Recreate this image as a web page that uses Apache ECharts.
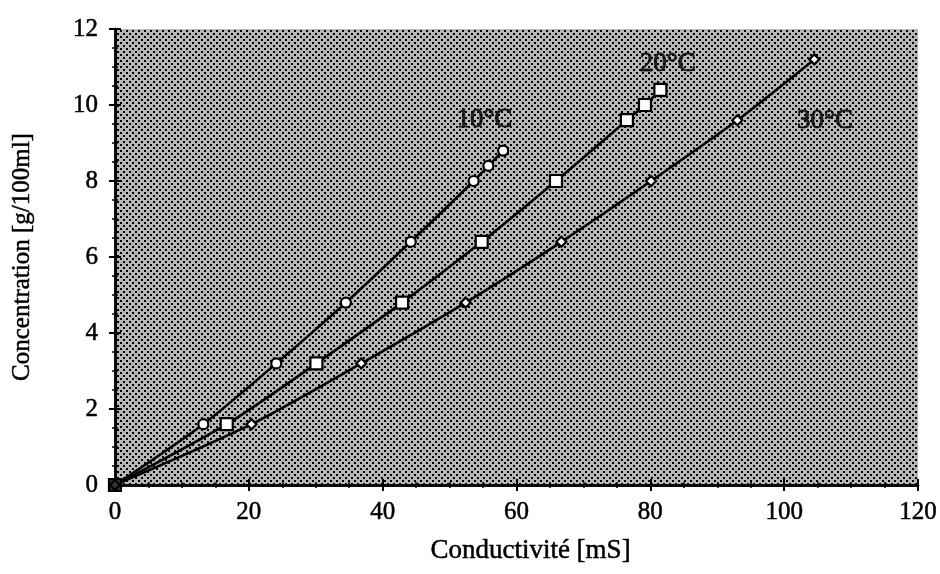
<!DOCTYPE html>
<html>
<head>
<meta charset="utf-8">
<script src="https://cdn.jsdelivr.net/npm/echarts@6/dist/echarts.min.js"></script>
<style>
html,body{margin:0;padding:0;background:#fff;}
#chart{width:940px;height:574px;}
</style>
</head>
<body>
<div id="chart"></div>
<script>
// Data (conductivity in mS, concentration in g/100ml)
const cond10 = [0, 13.2, 24.1, 34.5, 44.2, 53.6, 55.8, 58.0];
const conc10 = [0, 1.6, 3.2, 4.8, 6.4, 8.0, 8.4, 8.8];
const cond20 = [0, 16.7, 30.1, 42.9, 54.8, 65.9, 76.5, 79.2, 81.5];
const conc20 = [0, 1.6, 3.2, 4.8, 6.4, 8.0, 9.6, 10.0, 10.4];
const cond30 = [0, 20.4, 36.8, 52.4, 66.7, 80.1, 93.0, 104.5];
const conc30 = [0, 1.6, 3.2, 4.8, 6.4, 8.0, 9.6, 11.2];
const curveNames = ['10°C', '20°C', '30°C'];
const curveLabelPos = [[55.2, 9.6], [82.6, 11.08], [106.1, 9.58]];
const xTicks = [0, 20, 40, 60, 80, 100, 120];
const yTicks = [0, 2, 4, 6, 8, 10, 12];

// dotted halftone pattern
const pc = document.createElement('canvas');
pc.width = 6; pc.height = 6;
const pctx = pc.getContext('2d');
pctx.fillStyle = '#b6b6b6';
pctx.fillRect(0, 0, 6, 6);
pctx.fillStyle = '#000000';
pctx.fillRect(0, 0, 2, 2);
pctx.fillRect(3, 3, 2, 2);

const font = '"Liberation Serif", "DejaVu Serif", serif';
const chart = echarts.init(document.getElementById('chart'));

function pairs(xs, ys) { return xs.map((x, i) => [x, ys[i]]); }

const heavy = { textBorderColor: '#000', textBorderWidth: 0.5 };

const axisCommon = {
  axisLine: { show: true, lineStyle: { color: '#000', width: 2.5 } },
  axisTick: { show: true, inside: false, length: 6, lineStyle: { color: '#000', width: 2 } },
  minorTick: { show: true, splitNumber: 4, length: 3, lineStyle: { color: '#000', width: 1.5 } },
  splitLine: { show: false }
};

const lineSeries = (name, data, symbol, size) => ({
  name: name,
  type: 'line',
  data: data,
  smooth: 0.25,
  symbol: symbol,
  symbolSize: size,
  showAllSymbol: true,
  lineStyle: { color: '#000', width: 2.6 },
  itemStyle: { color: '#fff', borderColor: '#000', borderWidth: 2.2 },
  z: 3
});

chart.setOption({
  animation: false,
  backgroundColor: '#fff',
  grid: {
    left: 115, right: 19, top: 29, bottom: 89,
    show: true,
    backgroundColor: { image: pc, repeat: 'repeat' },
    borderWidth: 0
  },
  xAxis: [
    Object.assign({
      type: 'value', min: 0, max: 120, interval: 20,
      name: 'Conductivité [mS]', nameLocation: 'middle', nameGap: 52,
      nameTextStyle: Object.assign({ fontFamily: font, fontSize: 27, color: '#000', padding: [0, 0, 0, 28] }, heavy),
      axisLabel: Object.assign({ fontFamily: font, fontSize: 25, color: '#000', margin: 15,
        formatter: v => xTicks.includes(v) ? String(v) : '' }, heavy)
    }, axisCommon),
    Object.assign({
      type: 'value', min: 0, max: 120, interval: 20, position: 'top',
      axisLabel: { show: false }
    }, axisCommon)
  ],
  yAxis: [
    Object.assign({
      type: 'value', min: 0, max: 12, interval: 2,
      name: 'Concentration [g/100ml]', nameLocation: 'middle', nameGap: 80,
      nameTextStyle: Object.assign({ fontFamily: font, fontSize: 25, color: '#000' }, heavy),
      axisLabel: Object.assign({ fontFamily: font, fontSize: 25, color: '#000', margin: 17,
        formatter: v => yTicks.includes(v) ? String(v) : '' }, heavy)
    }, axisCommon),
    Object.assign({
      type: 'value', min: 0, max: 12, interval: 2, position: 'right',
      axisLabel: { show: false }
    }, axisCommon)
  ],
  series: [
    lineSeries(curveNames[0], pairs(cond10, conc10), 'circle', 10),
    lineSeries(curveNames[1], pairs(cond20, conc20), 'rect', 12),
    lineSeries(curveNames[2], pairs(cond30, conc30), 'diamond', 10),
    {
      type: 'scatter',
      data: [[0, 0]],
      symbol: 'rect',
      symbolSize: 12,
      itemStyle: { color: '#000' },
      z: 5
    },
    {
      type: 'scatter',
      data: curveLabelPos.map((p, i) => ({ value: p, name: curveNames[i] })),
      symbolSize: 0,
      label: {
        show: true, position: 'inside',
        formatter: p => p.name,
        fontFamily: font, fontSize: 27, color: '#000',
        textBorderColor: '#000', textBorderWidth: 0.8
      },
      z: 6
    }
  ]
});
</script>
</body>
</html>
